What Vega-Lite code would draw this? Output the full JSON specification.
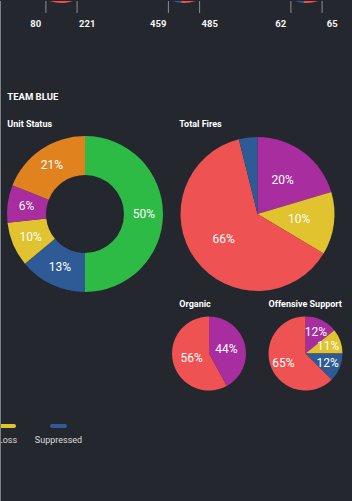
{
  "$schema": "https://vega.github.io/schema/vega-lite/v6.json",
  "background": "#24272e",
  "padding": 0,
  "config": {
    "view": {"stroke": null},
    "font": "Roboto",
    "title": {"color": "#ffffff", "font": "Roboto", "fontWeight": "bold", "fontSize": 9, "anchor": "start", "frame": "group", "offset": 5},
    "text": {"font": "Roboto"}
  },
  "datasets": {
    "top": [
      {"donut": "A", "team": "Red Team", "count": 221, "seq": 1},
      {"donut": "A", "team": "Blue Team", "count": 80, "seq": 2},
      {"donut": "B", "team": "Red Team", "count": 485, "seq": 1},
      {"donut": "B", "team": "Blue Team", "count": 459, "seq": 2},
      {"donut": "C", "team": "Red Team", "count": 65, "seq": 1},
      {"donut": "C", "team": "Blue Team", "count": 62, "seq": 2}
    ],
    "unit": [
      {"status": "Operational", "value": 50, "label": "50%", "seq": 1},
      {"status": "Suppressed", "value": 14, "label": "13%", "seq": 2},
      {"status": "Loss", "value": 9.2, "label": "10%", "seq": 3},
      {"status": "Destroyed", "value": 7.8, "label": "6%", "seq": 4},
      {"status": "Damaged", "value": 19, "label": "21%", "seq": 5}
    ],
    "fires": [
      {"status": "Destroyed", "value": 20.4, "label": "20%", "seq": 1},
      {"status": "Loss", "value": 13.2, "label": "10%", "seq": 2},
      {"status": "Hit", "value": 62.5, "label": "66%", "seq": 3},
      {"status": "Suppressed", "value": 3.9, "label": "", "seq": 4}
    ],
    "organic": [
      {"status": "Destroyed", "value": 42, "label": "44%", "seq": 1},
      {"status": "Hit", "value": 58, "label": "56%", "seq": 2}
    ],
    "offensive": [
      {"status": "Destroyed", "value": 14.2, "label": "12%", "seq": 1},
      {"status": "Loss", "value": 10.8, "label": "11%", "seq": 2},
      {"status": "Suppressed", "value": 12.5, "label": "12%", "seq": 3},
      {"status": "Hit", "value": 62.5, "label": "65%", "seq": 4}
    ],
    "legend": [
      {"status": "Loss"},
      {"status": "Suppressed"}
    ]
  },
  "resolve": {"scale": {"x": "independent", "theta": "independent"}},
  "spacing": 0,
  "bounds": "flush",
  "hconcat": [
    {
      "width": 1,
      "height": 501,
      "view": {"fill": "#7c8088", "stroke": null},
      "data": {"values": [{}]},
      "mark": {"type": "rect", "color": "#7c8088"},
      "encoding": {}
    },
    {
      "spacing": 134.5,
      "bounds": "flush",
      "resolve": {"scale": {"x": "independent", "theta": "independent"}},
      "vconcat": [
        {
          "spacing": 0,
          "bounds": "flush",
          "resolve": {"scale": {"x": "independent", "theta": "independent"}},
          "vconcat": [
            {
              "width": 351,
              "height": 12,
              "data": {"name": "top"},
              "resolve": {"scale": {"theta": "independent"}},
              "layer": [
                {
                  "transform": [{"filter": "datum.donut === 'A'"}],
                  "mark": {"type": "arc", "outerRadius": 34, "innerRadius": 20, "yOffset": -38, "clip": true},
                  "encoding": {
                    "x": {"field": "donut", "type": "nominal", "axis": null, "scale": {"type": "point", "domain": ["A", "B", "C"], "padding": 0.43265, "align": 0.57075, "round": false}},
                    "theta": {"field": "count", "type": "quantitative", "stack": true},
                    "order": {"field": "seq"},
                    "color": {"field": "team", "type": "nominal", "legend": null, "scale": {"domain": ["Operational", "Suppressed", "Loss", "Destroyed", "Damaged", "Hit", "Red Team", "Blue Team"], "range": ["#2dbb45", "#2e5b95", "#e1c22f", "#a82d9e", "#e0831f", "#ee5253", "#ee5253", "#2e5b95"]}}
                  }
                },
                {
                  "transform": [{"filter": "datum.donut === 'B'"}],
                  "mark": {"type": "arc", "outerRadius": 34, "innerRadius": 20, "yOffset": -38, "clip": true},
                  "encoding": {
                    "x": {"field": "donut", "type": "nominal", "axis": null, "scale": {"type": "point", "domain": ["A", "B", "C"], "padding": 0.43265, "align": 0.57075, "round": false}},
                    "theta": {"field": "count", "type": "quantitative", "stack": true},
                    "order": {"field": "seq"},
                    "color": {"field": "team", "type": "nominal", "legend": null, "scale": {"domain": ["Operational", "Suppressed", "Loss", "Destroyed", "Damaged", "Hit", "Red Team", "Blue Team"], "range": ["#2dbb45", "#2e5b95", "#e1c22f", "#a82d9e", "#e0831f", "#ee5253", "#ee5253", "#2e5b95"]}}
                  }
                },
                {
                  "transform": [{"filter": "datum.donut === 'C'"}],
                  "mark": {"type": "arc", "outerRadius": 34, "innerRadius": 20, "yOffset": -38, "clip": true},
                  "encoding": {
                    "x": {"field": "donut", "type": "nominal", "axis": null, "scale": {"type": "point", "domain": ["A", "B", "C"], "padding": 0.43265, "align": 0.57075, "round": false}},
                    "theta": {"field": "count", "type": "quantitative", "stack": true},
                    "order": {"field": "seq"},
                    "color": {"field": "team", "type": "nominal", "legend": null, "scale": {"domain": ["Operational", "Suppressed", "Loss", "Destroyed", "Damaged", "Hit", "Red Team", "Blue Team"], "range": ["#2dbb45", "#2e5b95", "#e1c22f", "#a82d9e", "#e0831f", "#ee5253", "#ee5253", "#2e5b95"]}}
                  }
                },
                {
                  "transform": [{"filter": "datum.team === 'Blue Team'"}],
                  "mark": {"type": "rule", "color": "#8a8d92", "strokeWidth": 1, "xOffset": -15.6},
                  "encoding": {
                    "x": {"field": "donut", "type": "nominal", "axis": null, "scale": {"type": "point", "domain": ["A", "B", "C"], "padding": 0.43265, "align": 0.57075, "round": false}}
                  }
                },
                {
                  "transform": [{"filter": "datum.team === 'Red Team'"}],
                  "mark": {"type": "rule", "color": "#8a8d92", "strokeWidth": 1, "xOffset": 15.6},
                  "encoding": {
                    "x": {"field": "donut", "type": "nominal", "axis": null, "scale": {"type": "point", "domain": ["A", "B", "C"], "padding": 0.43265, "align": 0.57075, "round": false}}
                  }
                }
              ]
            },
            {
              "width": 351,
              "height": 22,
              "data": {"name": "top"},
              "layer": [
                {
                  "transform": [{"filter": "datum.team === 'Blue Team'"}],
                  "mark": {"type": "text", "dx": -25.75, "fontWeight": "bold", "fontSize": 9.5, "fill": "#f6f6f6"},
                  "encoding": {
                    "x": {"field": "donut", "type": "nominal", "axis": null, "scale": {"type": "point", "domain": ["A", "B", "C"], "padding": 0.43265, "align": 0.57075, "round": false}},
                    "text": {"field": "count", "type": "quantitative"}
                  }
                },
                {
                  "transform": [{"filter": "datum.team === 'Red Team'"}],
                  "mark": {"type": "text", "dx": 25.75, "fontWeight": "bold", "fontSize": 9.5, "fill": "#f6f6f6"},
                  "encoding": {
                    "x": {"field": "donut", "type": "nominal", "axis": null, "scale": {"type": "point", "domain": ["A", "B", "C"], "padding": 0.43265, "align": 0.57075, "round": false}},
                    "text": {"field": "count", "type": "quantitative"}
                  }
                }
              ]
            }
          ]
        },
        {
          "spacing": 277.5,
          "bounds": "flush",
          "resolve": {"scale": {"x": "independent", "theta": "independent"}},
          "vconcat": [
            {
              "title": {"text": "TEAM BLUE", "fontSize": 9.5, "dx": 6.3, "offset": 19},
              "spacing": 3,
              "bounds": "flush",
              "resolve": {"scale": {"x": "independent", "theta": "independent"}},
              "hconcat": [
                {
                  "width": 168,
                  "height": 157,
                  "title": {"text": "Unit Status", "dx": 6.3, "offset": 6.5},
                  "data": {"name": "unit"},
                  "encoding": {
                    "theta": {"field": "value", "type": "quantitative", "stack": true},
                    "order": {"field": "seq"}
                  },
                  "layer": [
                    {
                      "mark": {"type": "arc", "outerRadius": 78, "innerRadius": 39},
                      "encoding": {
                        "color": {"field": "status", "type": "nominal", "legend": null, "scale": {"domain": ["Operational", "Suppressed", "Loss", "Destroyed", "Damaged", "Hit", "Red Team", "Blue Team"], "range": ["#2dbb45", "#2e5b95", "#e1c22f", "#a82d9e", "#e0831f", "#ee5253", "#ee5253", "#2e5b95"]}}
                      }
                    },
                    {
                      "mark": {"type": "text", "radius": 59, "fill": "#ffffff", "fontSize": 12},
                      "encoding": {"text": {"field": "label"}}
                    }
                  ]
                },
                {
                  "spacing": 24,
                  "bounds": "flush",
                  "resolve": {"scale": {"x": "independent", "theta": "independent"}},
                  "vconcat": [
                    {
                      "width": 171,
                      "height": 157,
                      "title": {"text": "Total Fires", "dx": 7.3, "offset": 6.5},
                      "data": {"name": "fires"},
                      "encoding": {
                        "theta": {"field": "value", "type": "quantitative", "stack": true},
                        "order": {"field": "seq"}
                      },
                      "layer": [
                        {
                          "mark": {"type": "arc", "outerRadius": 77},
                          "encoding": {
                            "color": {"field": "status", "type": "nominal", "legend": null, "scale": {"domain": ["Operational", "Suppressed", "Loss", "Destroyed", "Damaged", "Hit", "Red Team", "Blue Team"], "range": ["#2dbb45", "#2e5b95", "#e1c22f", "#a82d9e", "#e0831f", "#ee5253", "#ee5253", "#2e5b95"]}}
                          }
                        },
                        {
                          "mark": {"type": "text", "radius": 42, "fill": "#ffffff", "fontSize": 12},
                          "encoding": {"text": {"field": "label"}}
                        }
                      ]
                    },
                    {
                      "spacing": 22.5,
                      "bounds": "flush",
                      "resolve": {"scale": {"x": "independent", "theta": "independent"}},
                      "hconcat": [
                        {
                          "width": 74,
                          "height": 74,
                          "title": {"text": "Organic", "dx": 7.3, "offset": 7.5},
                          "data": {"name": "organic"},
                          "encoding": {
                            "theta": {"field": "value", "type": "quantitative", "stack": true},
                            "order": {"field": "seq"}
                          },
                          "layer": [
                            {
                              "mark": {"type": "arc", "outerRadius": 37},
                              "encoding": {
                                "color": {"field": "status", "type": "nominal", "legend": null, "scale": {"domain": ["Operational", "Suppressed", "Loss", "Destroyed", "Damaged", "Hit", "Red Team", "Blue Team"], "range": ["#2dbb45", "#2e5b95", "#e1c22f", "#a82d9e", "#e0831f", "#ee5253", "#ee5253", "#2e5b95"]}}
                              }
                            },
                            {
                              "mark": {"type": "text", "radius": 18, "fill": "#ffffff", "fontSize": 12},
                              "encoding": {"text": {"field": "label"}}
                            }
                          ]
                        },
                        {
                          "width": 74,
                          "height": 74,
                          "title": {"text": "Offensive Support", "dx": 0, "offset": 7.5},
                          "data": {"name": "offensive"},
                          "encoding": {
                            "theta": {"field": "value", "type": "quantitative", "stack": true},
                            "order": {"field": "seq"}
                          },
                          "layer": [
                            {
                              "mark": {"type": "arc", "outerRadius": 37},
                              "encoding": {
                                "color": {"field": "status", "type": "nominal", "legend": null, "scale": {"domain": ["Operational", "Suppressed", "Loss", "Destroyed", "Damaged", "Hit", "Red Team", "Blue Team"], "range": ["#2dbb45", "#2e5b95", "#e1c22f", "#a82d9e", "#e0831f", "#ee5253", "#ee5253", "#2e5b95"]}}
                              }
                            },
                            {
                              "mark": {"type": "text", "radius": 24, "fill": "#ffffff", "fontSize": 12},
                              "encoding": {"text": {"field": "label"}}
                            }
                          ]
                        }
                      ]
                    }
                  ]
                }
              ]
            },
            {
              "width": 351,
              "height": 89,
              "data": {"name": "legend"},
              "encoding": {
                "x": {"field": "status", "type": "nominal", "axis": null, "scale": {"type": "point", "domain": ["Loss", "Suppressed"], "range": [6.5, 57.5], "padding": 0, "round": false}}
              },
              "layer": [
                {
                  "mark": {"type": "tick", "orient": "horizontal", "size": 17, "thickness": 4, "cornerRadius": 2, "yOffset": -31.5, "clip": true, "opacity": 1},
                  "encoding": {
                    "color": {"field": "status", "type": "nominal", "legend": null, "scale": {"domain": ["Operational", "Suppressed", "Loss", "Destroyed", "Damaged", "Hit", "Red Team", "Blue Team"], "range": ["#2dbb45", "#2e5b95", "#e1c22f", "#a82d9e", "#e0831f", "#ee5253", "#ee5253", "#2e5b95"]}}
                  }
                },
                {
                  "mark": {"type": "text", "fontSize": 9, "fill": "#dcdcdc", "yOffset": -17.5, "clip": true},
                  "encoding": {"text": {"field": "status"}}
                }
              ]
            }
          ]
        }
      ]
    }
  ]
}
